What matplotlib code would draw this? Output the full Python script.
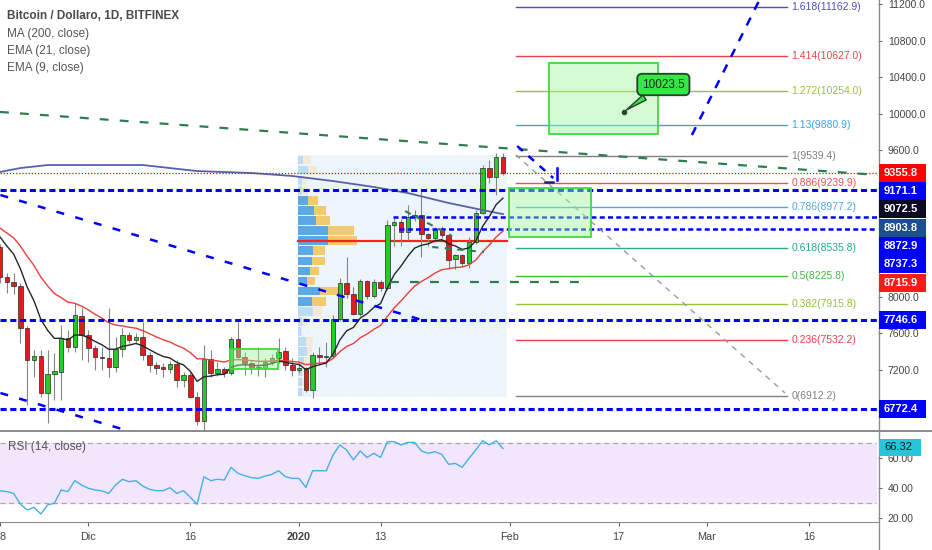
import numpy as np
import pandas as pd
import matplotlib
matplotlib.use('Agg')
import matplotlib.pyplot as plt
from matplotlib.patches import Rectangle

plt.rcParams['font.family'] = ['Liberation Sans', 'DejaVu Sans']

# --- dati (BTC/USD giornaliero, Bitfinex) ---
start_date = '2019-11-18'
opens = [8544, 8216, 8161, 8118, 7659, 7309, 7352, 6948, 7156, 7178, 7549, 7451, 7790,
         7582, 7440, 7342, 7331, 7232, 7429, 7582, 7527, 7560, 7363, 7254, 7232, 7210, 7265, 7090, 7145,
         6904, 6642, 7320, 7167, 7210, 7167, 7538, 7342, 7276, 7232, 7225, 7287, 7331, 7407, 7254,
         7199, 7221, 6981, 7363, 7342, 7352, 7757, 8150, 8030, 7812, 8172, 8008, 8161, 8096, 8784,
         8820, 8708, 8872, 8894, 8686, 8642, 8741, 8675, 8413, 8457, 8369, 8599, 8916, 9407, 9309, 9528]
highs = [8580, 8260, 8260, 8150, 7680, 7418, 7418, 7418, 7385, 7691, 7637, 7932, 7877,
         7637, 7473, 7451, 7877, 7560, 7659, 7615, 7600, 7724, 7396, 7287, 7276, 7300, 7309, 7178, 7178,
         6959, 7473, 7418, 7290, 7230, 7560, 7724, 7396, 7309, 7451, 7330, 7380, 7549, 7450, 7330,
         7280, 7230, 7400, 7451, 7506, 7800, 8200, 8435, 8107, 8190, 8180, 8190, 8180, 8839, 8860,
         8850, 9003, 8950, 9167, 8700, 8760, 8770, 8697, 8470, 8470, 8653, 8950, 9440, 9495, 9571, 9570]
lows = [8150, 8041, 8030, 7495, 6817, 7123, 6904, 6620, 6872, 6872, 7396, 7396, 7309,
        7287, 7199, 7199, 7123, 7178, 7342, 7495, 7490, 7309, 7178, 7156, 7123, 7170, 7014, 7014, 6894,
        6598, 6544, 7123, 7130, 7120, 7145, 7309, 7145, 7156, 7134, 7120, 7250, 7280, 7200, 7130,
        7170, 6959, 6894, 7276, 7232, 7330, 7730, 7990, 7801, 7790, 7980, 7990, 8060, 8074, 8555,
        8555, 8621, 8830, 8435, 8560, 8600, 8640, 8314, 8300, 8330, 8314, 8580, 8900, 9244, 9112, 9331]
closes = [8216, 8161, 8118, 7659, 7309, 7352, 6948, 7156, 7190, 7549, 7451, 7801, 7582,
          7440, 7342, 7331, 7232, 7429, 7582, 7527, 7560, 7363, 7254, 7221, 7210, 7265, 7090, 7145, 6904,
          6642, 7320, 7167, 7210, 7167, 7538, 7342, 7276, 7232, 7225, 7287, 7331, 7396, 7254, 7199,
          7221, 6981, 7363, 7342, 7352, 7757, 8150, 8030, 7812, 8172, 8008, 8161, 8096, 8784, 8820,
          8708, 8872, 8890, 8686, 8642, 8741, 8675, 8402, 8457, 8369, 8599, 8916, 9407, 9309, 9528, 9356]
rsi = [38.2, 37.6, 36.4, 29.3, 25.3, 27.1, 22.7, 28.7, 29.8, 38.7, 37.6, 44.9, 42.0,
       39.8, 38.7, 38.0, 36.4, 42.0, 45.8, 44.2, 44.9, 41.3, 39.1, 38.2, 38.2, 40.2, 36.4, 38.2, 33.8,
       29.1, 47.5, 44.9, 45.8, 45.3, 53.8, 49.8, 48.2, 46.9, 46.4, 48.0, 49.1, 51.5, 47.5, 46.4,
       46.4, 40.4, 51.5, 51.5, 51.5, 62.0, 68.7, 65.3, 58.7, 64.7, 60.4, 63.1, 60.4, 70.9, 70.9,
       68.7, 70.4, 70.4, 64.7, 63.1, 64.2, 62.4, 55.8, 56.4, 53.8, 59.8, 65.3, 71.5, 68.7, 71.5, 66.32]

# valori iniziali delle medie (letti al bordo sinistro)
ema9_seed = 8763
ema21_seed = 8804
ma200_dates = ['2019-11-18', '2019-11-21', '2019-11-25', '2019-12-09', '2019-12-17', '2019-12-25',
               '2019-12-31', '2020-01-06', '2020-01-12', '2020-01-17', '2020-01-23', '2020-01-28', '2020-01-31']
ma200_vals = [9364, 9407, 9440, 9440, 9374, 9353, 9320, 9265, 9200, 9134, 9025, 8948, 8903.8]

# volume profile (range visibile gen 2020), righe dall'alto
vp_top, vp_bottom = 9550, 6904
vp_up = [5, 10, 4, 4, 10, 16, 18, 30, 30, 15, 14, 12, 9, 22, 14, 15, 4, 3, 8, 9, 6, 4, 4, 4]
vp_down = [8, 9, 5, 6, 10, 12, 14, 26, 29, 12, 13, 9, 8, 19, 14, 9, 5, 1, 7, 5, 5, 4, 3, 2]
vp_value_area = (4, 14)

# fibonacci
fib_levels = ['0', '0.236', '0.382', '0.5', '0.618', '0.786', '0.886', '1', '1.13', '1.272', '1.414', '1.618']
fib_prices = [6912.2, 7532.2, 7915.8, 8225.8, 8535.8, 8977.2, 9239.9, 9539.4, 9880.9, 10254.0, 10627.0, 11162.9]
fib_colors = ['#808080', '#e8414b', '#97c23c', '#3fbf3f', '#22a98e', '#4aa8e8', '#e8505a', '#808080',
              '#3aa6e6', '#97c23c', '#e04848', '#4b4bc8']

last_price = 9355.8
ema9_last = 9072.5
ema21_last = 8715.9
hlines_full = [9171.1, 7746.6, 6772.4]
hlines_part = [8872.9, 8737.3]
callout_price = 10023.5

origin = pd.Timestamp('2019-12-01')
def day(s):
    return (pd.Timestamp(s) - origin).days

dates = pd.date_range(start_date, periods=len(closes), freq='D')
x = np.array([(d - origin).days for d in dates])

def ema(vals, span, seed):
    a = 2.0 / (span + 1)
    out, prev = [], seed
    for v in vals:
        prev = a * v + (1 - a) * prev
        out.append(prev)
    return np.array(out)

ema9 = ema(closes, 9, ema9_seed)
ema21 = ema(closes, 21, ema21_seed)

W, H = 932, 550
fig = plt.figure(figsize=(W / 100, H / 100), dpi=100)
fig.patch.set_facecolor('white')
ax = fig.add_axes([0, 1 - 431 / H, 878 / W, 431 / H])
axr = fig.add_axes([0, 1 - 521.5 / H, 878 / W, 90.5 / H], sharex=ax)

ax.set_xlim(-12.94, 116.18)
ax.set_ylim(6533, 11243.7)
axr.set_ylim(17.67, 78)

for a in (ax, axr):
    for s in a.spines.values():
        s.set_visible(False)
axr.spines['bottom'].set_visible(True)
axr.spines['bottom'].set_color('#8a8a8a')

# etichette sull'asse prezzi: posizioni spostate per non sovrapporsi
labels = [(last_price, '#ff0000', 'white'), (hlines_full[0], '#0000ff', 'white'),
          (ema9_last, '#0b0b24', 'white'), (ma200_vals[-1], '#1d4f8e', 'white'),
          (hlines_part[0], '#0000ff', 'white'), (hlines_part[1], '#0000ff', 'white'),
          (ema21_last, '#ff1a1a', 'white'), (hlines_full[1], '#0000ff', 'white'),
          (hlines_full[2], '#0000ff', 'white')]
labels.sort(key=lambda t: -t[0])
label_px = []
prev = None
for v, fc, tc in labels:
    ypx = ax.transData.transform((0, v))[1]
    if prev is not None and prev - ypx < 18.3:
        ypx = prev - 18.3
    prev = ypx
    label_px.append(ypx)

# assi (le tacche coperte dalle etichette non si vedono)
price_ticks = [t for t in np.arange(6800, 11201, 400)
               if min(abs(ax.transData.transform((0, t))[1] - p) for p in label_px) > 11]
ax.yaxis.tick_right()
ax.set_yticks(price_ticks)
ax.set_yticklabels(['%.1f' % v for v in price_ticks])
ax.tick_params(axis='y', length=3, color='#666666', labelsize=7.5, labelcolor='#444444', pad=4)
ax.tick_params(axis='x', bottom=False, labelbottom=False)
axr.yaxis.tick_right()
axr.set_yticks([20, 40, 60])
axr.set_yticklabels(['20.00', '40.00', '60.00'])
axr.tick_params(axis='y', length=3, color='#666666', labelsize=7.5, labelcolor='#444444', pad=4)
# la prima etichetta (18 nov) e' tagliata dal bordo: se ne vede solo "8"
tick_dates = ['2019-11-18', '2019-12-01', '2019-12-16', '2020-01-01', '2020-01-13',
              '2020-02-01', '2020-02-17', '2020-03-01', '2020-03-16']
tick_labels = ['8', 'Dic', '16', '2020', '13', 'Feb', '17', 'Mar', '16']
axr.set_xticks([day(d) for d in tick_dates])
axr.set_xticklabels(tick_labels)
axr.tick_params(axis='x', length=3, color='#666666', labelsize=7.8, labelcolor='#444444', pad=4.5)
for t in axr.get_xticklabels():
    if t.get_text() == '2020':
        t.set_fontweight('bold')
axr.get_xticklabels()[0].set_horizontalalignment('left')

# volume profile
rows = len(vp_up)
rh = (vp_top - vp_bottom) / rows
vp_x0 = day('2020-01-01') - 0.1
vp_x1 = day('2020-01-31') + 0.6
ax.add_patch(Rectangle((vp_x0, vp_bottom), vp_x1 - vp_x0, vp_top - vp_bottom,
                       fc='#edf5fc', ec='none', zorder=0.5))
px_day = 1 / 6.8
for i in range(rows):
    lo = vp_top - (i + 1) * rh
    inside = vp_value_area[0] <= i <= vp_value_area[1]
    cu = '#5aa9e6' if inside else '#bddcf4'
    cd = '#f1c96e' if inside else '#f2ead6'
    ax.add_patch(Rectangle((vp_x0, lo + rh * 0.07), vp_up[i] * px_day, rh * 0.86, fc=cu, ec='none', zorder=1))
    ax.add_patch(Rectangle((vp_x0 + vp_up[i] * px_day, lo + rh * 0.07), vp_down[i] * px_day, rh * 0.86,
                           fc=cd, ec='none', zorder=1))
poc = int(np.argmax(np.array(vp_up) + np.array(vp_down)))
ax.plot([vp_x0, vp_x1], [vp_top - (poc + 0.5) * rh] * 2, color='#ff2020', lw=1.6, zorder=2.5)

# fibonacci
fx0, fx1 = 62.9, 102.8
for lv, pr, c in zip(fib_levels, fib_prices, fib_colors):
    ax.plot([fx0, fx1], [pr, pr], color=c, lw=1.0, zorder=2)
    ax.text(fx1 + 0.6, pr, '%s(%.1f)' % (lv, pr), color=c, fontsize=7.5, va='center', ha='left', zorder=2)

# medie
ax.plot([day(d) for d in ma200_dates], ma200_vals, color='#5b5fa8', lw=1.3, zorder=4)
ax.plot(x, ema21, color='#f03c3c', lw=1.0, zorder=4)
ax.plot(x, ema9, color='#262626', lw=1.0, zorder=4)

# candele
bw = 0.66
for xi, o, h, l, c in zip(x, opens, highs, lows, closes):
    ax.plot([xi, xi], [l, h], color='#858585', lw=0.8, zorder=3, solid_capstyle='butt')
    col = '#25cc25' if c >= o else '#e51b1b'
    ax.add_patch(Rectangle((xi - bw / 2, min(o, c)), bw, max(abs(c - o), 8), fc=col, ec='#2a2a2a',
                           lw=0.5, zorder=3.2))

# linee orizzontali
ax.axhline(last_price, color='#ff0000', lw=0.9, ls=(0, (1, 1.5)), zorder=5)
for v in hlines_full:
    ax.axhline(v, color='#0000ff', lw=2.2, ls=(0, (2, 1.2)), zorder=5)
for v, d0 in zip(hlines_part, [44.8, 45.7]):
    ax.plot([d0, 116.18], [v, v], color='#0000ff', lw=1.8, ls=(0, (2, 1.3)), zorder=5)

# trendline e disegni
ax.plot([-13, 116.2], [10020, 9331], color='#2e7d4f', lw=1.6, ls=(0, (4, 5)), zorder=5)
ax.plot([-12.94, 49.1], [9112, 7746], color='#0000ff', lw=1.8, ls=(0, (3.2, 4.6)), zorder=5)
ax.plot([-12.94, 7.0], [6948, 6510], color='#0000ff', lw=1.8, ls=(0, (3.2, 4.6)), zorder=5)
ax.plot([88.8, 99.1], [9768, 11298], color='#0000ff', lw=1.8, ls=(0, (3.5, 3.5)), zorder=5)
ax.plot([63.1, 68.4], [9648, 9298], color='#0000ff', lw=1.8, ls=(0, (3, 3)), zorder=5)
ax.plot([69.0, 69.0], [9407, 9276], color='#0000ff', lw=1.8, zorder=5)
ax.plot([67.2, 68.4], [9254, 9254], color='#1a237e', lw=1.8, zorder=5)
ax.plot([62.9, 102.5], [9550, 6948], color='#9a9a9a', lw=1.0, ls=(0, (4, 4)), zorder=5)
ax.plot([44.4, 72.4], [8161, 8161], color='#2e7d4f', lw=1.6, ls=(0, (4, 5)), zorder=5)
ax.plot([46.6, 53.5], [8937, 8664], color='#2e7d4f', lw=1.5, ls=(0, (3, 3)), zorder=5)
ax.plot([50.6, 58.2], [8544, 8489], color='#2e7d4f', lw=1.5, ls=(0, (3, 3)), zorder=5)

# rettangoli verdi
for d0, d1, p0, p1 in [(67.8, 83.8, 9779, 10555), (61.9, 74.0, 8653, 9189), (20.9, 27.9, 7210, 7429)]:
    ax.add_patch(Rectangle((d0, p0), d1 - d0, p1 - p0, fc='#9ef59e', alpha=0.45, ec='none', zorder=6))
    ax.add_patch(Rectangle((d0, p0), d1 - d0, p1 - p0, fc='none', ec='#3ddc3d', lw=1.3, zorder=6))

ax.plot([78.8], [callout_price], 'o', color='#1f4f1f', ms=3, zorder=7)
ax.annotate('%.1f' % callout_price, xy=(78.8, callout_price), xytext=(84.6, 10320),
            ha='center', va='center', fontsize=8.5, color='#1b2e1b', zorder=7,
            bbox=dict(boxstyle='round,pad=0.4', fc='#33e844', ec='#2b3d2b', lw=1.3),
            arrowprops=dict(arrowstyle='wedge,tail_width=0.5', fc='#33e844', ec='#2b3d2b', lw=1))

# RSI
axr.axhspan(30, 70, xmin=0, xmax=876 / 878, color='#f3e6fc', zorder=0)
for lv in (30, 70):
    axr.plot([-12.94, 115.9], [lv, lv], color='#a8a8a8', lw=0.9, ls=(0, (4, 3)), zorder=1)
axr.plot(x, rsi, color='#43b0e6', lw=1.0, zorder=3)

# box delle etichette
for (v, fc, tc), ypx in zip(labels, label_px):
    fig.add_artist(Rectangle((879 / W, (ypx - 9) / H), 47 / W, 18 / H, transform=fig.transFigure,
                             fc=fc, ec='none', zorder=5))
    fig.text(884 / W, ypx / H, '%.1f' % v, color=tc, fontsize=8, fontweight='bold',
             va='center', ha='left', zorder=6)
ypx = axr.transData.transform((0, rsi[-1]))[1] + 1.5
fig.add_artist(Rectangle((879 / W, (ypx - 8.5) / H), 42 / W, 17 / H, transform=fig.transFigure,
                         fc='#26c6da', ec='none', zorder=5))
fig.text(884 / W, ypx / H, '%.2f' % rsi[-1], color='#1a1a1a', fontsize=8, va='center', ha='left', zorder=6)

# cornici
fig.add_artist(plt.Line2D([878.5 / W, 878.5 / W], [0, 1], color='#8a8a8a', lw=1.0, transform=fig.transFigure))
fig.add_artist(plt.Line2D([0, 1], [1 - 431 / H, 1 - 431 / H], color='#8a8a8a', lw=1.4, transform=fig.transFigure))

# legenda
fig.text(7 / W, 1 - 16 / H, 'Bitcoin / Dollaro, 1D, BITFINEX', fontsize=8.5, fontweight='bold',
         color='#4a4a4a', va='center')
for i, s in enumerate(['MA (200, close)', 'EMA (21, close)', 'EMA (9, close)']):
    fig.text(7 / W, 1 - (34 + 17 * i) / H, s, fontsize=8.5, color='#555555', va='center')
fig.text(8 / W, 1 - 447 / H, 'RSI (14, close)', fontsize=8.5, color='#555555', va='center')

fig.savefig('out.png', dpi=100)
